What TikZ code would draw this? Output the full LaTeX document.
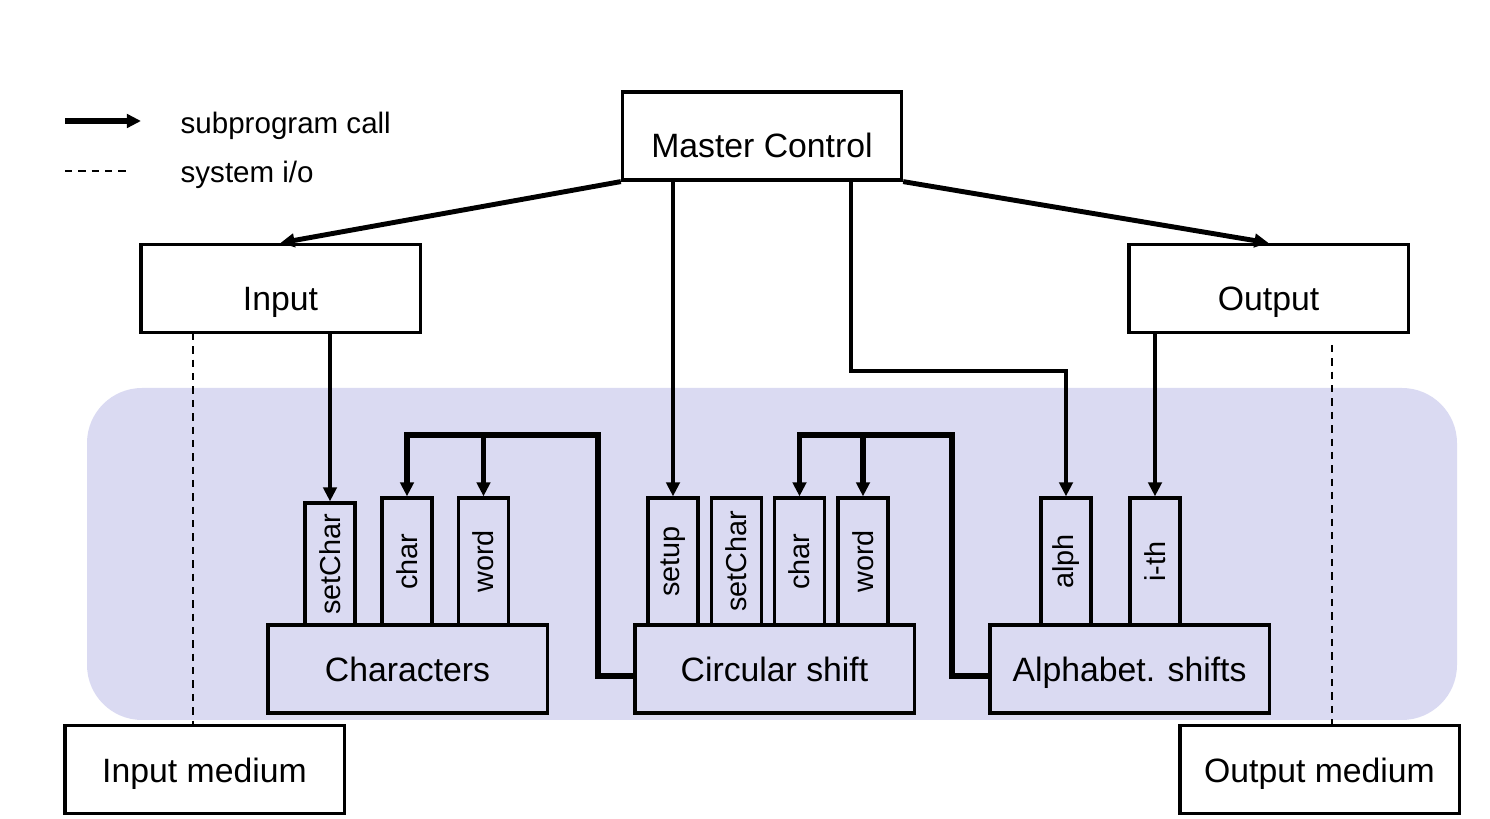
\documentclass[tikz,border=0pt]{standalone}
\usepackage{fontspec}
\setmainfont{Liberation Sans}
\usepackage{graphicx}
\usetikzlibrary{arrows.meta,calc}
\definecolor{bgpurple}{RGB}{218,218,242}
\begin{document}
\begin{tikzpicture}[x=0.01cm,y=-0.01cm,
  box/.style={draw,line width=0.9pt,minimum width=2.79cm,minimum height=0.88cm,inner sep=0pt,
    font=\fontsize{9.6}{11}\selectfont,text height=0.72em,text depth=0pt},
  topbox/.style={box,text height=1.23em},
  stub/.style={draw,line width=0.9pt,minimum width=0.5cm,minimum height=1.27cm,inner sep=0pt,
    font=\fontsize{8.2}{10}\selectfont},
  call/.style={line width=1.4pt,-{Triangle[length=4pt,width=3.8pt]}},
  conn/.style={line width=1.55pt,-{Triangle[length=4pt,width=3.8pt]}},
  io/.style={line width=0.45pt,dash pattern=on 2.1pt off 1.7pt},
  legend/.style={anchor=base west,inner sep=0pt,font=\fontsize{8.4}{10}\selectfont},
]
\useasboundingbox (0,0) rectangle (1490,819);
\fill[bgpurple,rounded corners=0.55cm] (87,388) rectangle (1457,720);

% top level boxes
\node[topbox] (mc) at (762,136) {Master Control};
\node[topbox] (in) at (280.5,288.5) {Input};
\node[topbox] (out) at (1268.5,288.5) {Output};
\node[box] (im) at (204.5,769.5) {Input medium};
\node[box] (om) at (1319.5,769.5) {Output medium};

% stubs
\node[stub,minimum height=1.22cm] (sc1) at (330,564) {\rotatebox{90}{setChar}};
\node[stub] (ch1) at (407,561.5) {\rotatebox{90}{char}};
\node[stub] (wd1) at (483.5,561.5) {\rotatebox{90}{word}};
\node[stub] (su2) at (673,561.5) {\rotatebox{90}{setup}};
\node[stub] (sc2) at (736.5,561.5) {\rotatebox{90}{setChar}};
\node[stub] (ch2) at (799.5,561.5) {\rotatebox{90}{char}};
\node[stub] (wd2) at (863,561.5) {\rotatebox{90}{word}};
\node[stub] (al3) at (1066,561.5) {\rotatebox{90}{alph}};
\node[stub] (it3) at (1155,561.5) {\rotatebox{90}{i-th}};

% module boxes
\node[box] (ch) at (407.5,669) {Characters};
\node[box] (cs) at (774.5,669) {Circular shift};
\node[box] (as) at (1129.5,669) {Alphabet. shifts};

% calls
\draw[call] (mc.south west) -- (in.north);
\draw[call] (mc.south east) -- (out.north);
\draw[call] (su2.north |- mc.south) -- (su2.north);
\coordinate (k1) at (851,371);
\draw[call] (k1 |- mc.south) -- (k1) -| (al3.north);
\draw[call] (sc1.north |- in.south) -- (sc1.north);
\draw[call] (it3.north |- out.south) -- (it3.north);

\coordinate (j1) at (598,435);
\draw[conn] ([yshift=-0.07cm]cs.west) -| (j1) -| (ch1.north);
\draw[conn] (wd1.north |- j1) -- (wd1.north);
\coordinate (j2) at (952,435);
\draw[conn] ([yshift=-0.07cm]as.west) -| (j2) -| (ch2.north);
\draw[conn] (wd2.north |- j2) -- (wd2.north);

% system i/o
\coordinate (d1) at (193,333);
\draw[io] (d1) -- (d1 |- im.north);
\coordinate (d2) at (1332,345);
\draw[io] (d2) -- (d2 |- om.north);

% legend
\coordinate (la) at (65,121);
\coordinate (lb) at (141,121);
\draw[call,line width=1.5pt] (la) -- (lb);
\node[legend] (lt1) at (180,134) {subprogram call};
\coordinate (lc) at (65,171);
\coordinate (ld) at (130,171);
\draw[io] (lc) -- (ld);
\node[legend] (lt2) at (180,183) {system i/o};
\end{tikzpicture}
\end{document}
